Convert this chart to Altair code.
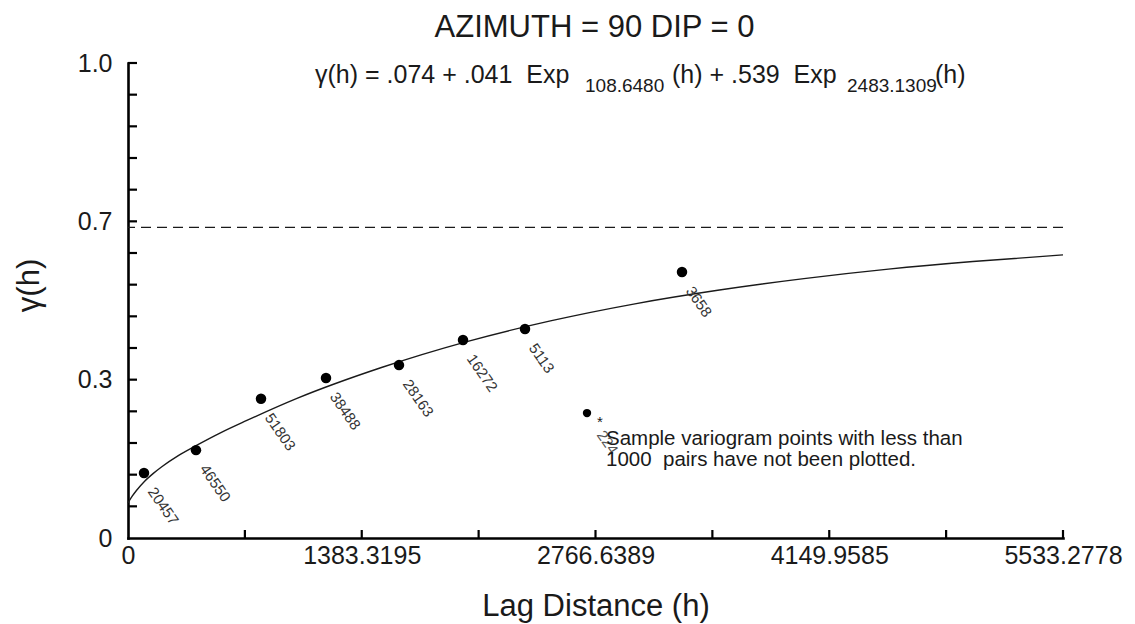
import json
import altair as alt
import pandas as pd

# ---- data ----
lag = [94.7, 402.4, 787.1, 1171.8, 1603.8, 1982.5, 2349.4, 3278.5]
gamma = [0.137, 0.185, 0.293, 0.337, 0.364, 0.417, 0.440, 0.560]
pairs = ["20457", "46550", "51803", "38488", "28163", "16272", "5113", "3658"]

star_lag = [2716.3]
star_gamma = [0.263]
star_pairs = ["224"]

model_lag = [0, 25, 50, 100, 150, 200, 300, 400, 550, 700, 1000, 1500, 2000,
             2500, 3000, 3500, 4000, 4500, 5000, 5533.2778]
model_gamma = [0.074, 0.088, 0.100, 0.120, 0.136, 0.150, 0.174, 0.194, 0.222,
               0.247, 0.294, 0.359, 0.413, 0.457, 0.493, 0.522, 0.546, 0.566,
               0.582, 0.596]

sill = [0.654]

x_tick_values = [0, 1383.3195, 2766.6389, 4149.9585, 5533.2778]
x_tick_labels = ["0", "1383.3195", "2766.6389", "4149.9585", "5533.2778"]
x_minor_values = [691.66, 1383.3195, 2074.98, 2766.6389, 3458.30, 4149.9585,
                  4841.62, 5533.2778]
y_tick_values = [0, 1 / 3, 2 / 3, 1]
y_tick_labels = ["0", "0.3", "0.7", "1.0"]
y_minor_values = [i / 15 for i in range(1, 16)]

NB = "\u00a0"
title_text = "AZIMUTH = 90 DIP = 0"
eq_main = ["γ(h) = .074 + .041" + NB + NB + "Exp", "(h) + .539" + NB + NB + "Exp", "(h)"]
eq_sub = ["108.6480", "2483.1309"]
note_text = "Sample variogram points with less than\n1000" + NB + NB + "pairs have not been plotted."

FONT = "Liberation Sans"
INK = "#1a1a1a"
W, H = 935, 475

xscale = alt.Scale(domain=[0, 5533.2778], nice=False, zero=False)
yscale = alt.Scale(domain=[0, 1], nice=False, zero=False)

pts = pd.DataFrame({"lag": lag, "gamma": gamma, "pairs": pairs})
star = pd.DataFrame({"lag": star_lag, "gamma": star_gamma, "pairs": star_pairs})
model = pd.DataFrame({"lag": model_lag, "gamma": model_gamma})

x_label_expr = f"{json.dumps(x_tick_labels)}[round(datum.value / {x_tick_values[1]})]"
y_label_expr = f"{json.dumps(y_tick_labels)}[round(datum.value * 3)]"

X = alt.X("lag:Q", scale=xscale, axis=alt.Axis(
    values=x_tick_values, labelExpr=x_label_expr, labelFontSize=25,
    labelPadding=5, labelFlush=False, labelOverlap=False, labelBound=False,
    ticks=False, tickSize=0, grid=False,
    title="Lag Distance (h)", titleFontSize=31, titleFontWeight="normal",
    titleX=W / 2, titleY=77, titleAlign="center", titleBaseline="alphabetic"))
Y = alt.Y("gamma:Q", scale=yscale, axis=alt.Axis(
    values=y_tick_values, labelExpr=y_label_expr, labelFontSize=25,
    labelPadding=16, labelFlush=False, labelOverlap=False, labelBound=False,
    ticks=False, tickSize=0, grid=False,
    title="γ(h)", titleFontSize=31, titleFontWeight="normal", titleAngle=270,
    titleX=-90, titleY=222, titleAlign="center", titleBaseline="alphabetic"))

curve = alt.Chart(model).mark_line(
    color=INK, strokeWidth=1.4, interpolate="monotone"
).encode(x=X, y=Y)

sill_rule = alt.Chart(pd.DataFrame({"gamma": sill})).mark_rule(
    color=INK, strokeWidth=1.4, strokeDash=[10, 6]
).encode(y=Y)

xticks = alt.Chart(pd.DataFrame({"lag": x_minor_values})).mark_rule(
    color="black", strokeWidth=2.2
).encode(x=X, y=alt.value(H), y2=alt.value(H - 8))

yticks = alt.Chart(pd.DataFrame({"gamma": y_minor_values})).mark_rule(
    color="black", strokeWidth=2.2
).encode(y=Y, x=alt.value(0), x2=alt.value(9))

dots = alt.Chart(pts).mark_circle(size=110, color="black", opacity=1).encode(x=X, y=Y)

dot_labels = alt.Chart(pts).mark_text(
    angle=55, align="left", baseline="top", xOffset=13, yOffset=12,
    fontSize=15, font=FONT, color="#333"
).encode(x=X, y=Y, text="pairs:N")

star_dot = alt.Chart(star).mark_circle(size=70, color="black", opacity=1).encode(x=X, y=Y)

star_mark = alt.Chart(star).mark_text(
    text="*", fontSize=15, font=FONT, color=INK, align="center", baseline="middle",
    xOffset=13, yOffset=9
).encode(x=X, y=Y)

star_label = alt.Chart(star).mark_text(
    angle=55, align="left", baseline="top", xOffset=19, yOffset=15,
    fontSize=15, font=FONT, color="#555"
).encode(x=X, y=Y, text="pairs:N")


def text_layer(txt, x, y, size, align="left", baseline="alphabetic", **kw):
    return alt.Chart(pd.DataFrame({"t": [txt]})).mark_text(
        fontSize=size, font=FONT, color=INK, align=align, baseline=baseline, **kw
    ).encode(text="t:N", x=alt.value(x), y=alt.value(y))


title = text_layer(title_text, W / 2 - 1, -26, 31, align="center")
eq1 = text_layer(eq_main[0], 187, 20, 25)
eq2 = text_layer(eq_sub[0], 457, 29, 19)
eq3 = text_layer(eq_main[1], 544, 20, 25)
eq4 = text_layer(eq_sub[1], 719, 29, 19)
eq5 = text_layer(eq_main[2], 807, 20, 25)
note = text_layer(note_text, 478, 382, 20.5, lineBreak="\n", lineHeight=21)

chart = alt.layer(
    curve, sill_rule, xticks, yticks, dots, dot_labels, star_dot, star_mark,
    star_label, title, eq1, eq2, eq3, eq4, eq5, note
).properties(
    width=W, height=H,
    autosize=alt.AutoSizeParams(type="none"),
    padding={"left": 128, "top": 63, "right": 72, "bottom": 86},
    background="white",
).configure_view(stroke=None).configure_axis(
    domainColor="black", domainWidth=2.6, domainCap="square",
    labelFont=FONT, titleFont=FONT, labelColor=INK, titleColor=INK,
)

chart.save("out.html", embed_options={"renderer": "svg", "actions": False})
